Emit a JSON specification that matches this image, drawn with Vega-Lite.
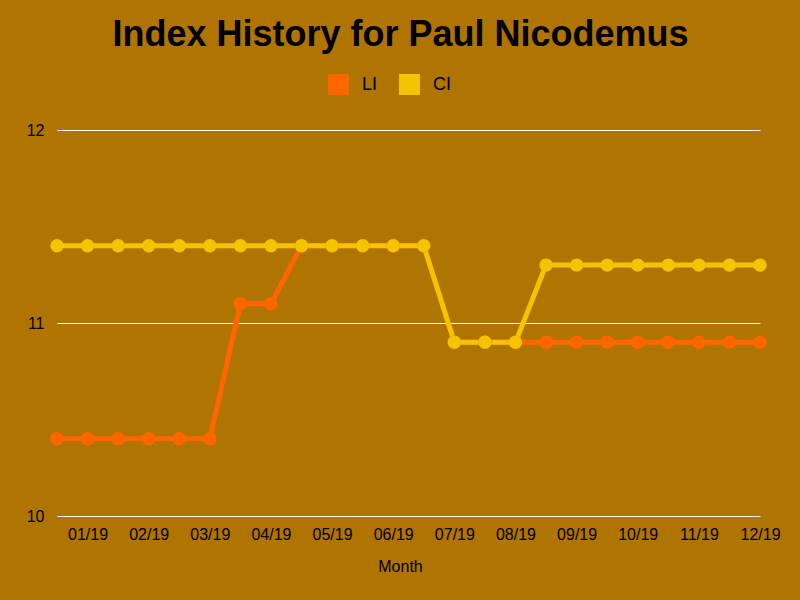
{
  "$schema": "https://vega.github.io/schema/vega-lite/v6.json",
  "autosize": {"type": "none"},
  "padding": {"left": 57, "top": 130, "right": 40, "bottom": 84},
  "width": 703,
  "height": 386,
  "background": "#B07400",
  "title": {
    "text": "Index History for Paul Nicodemus",
    "fontSize": 36,
    "font": "Liberation Sans",
    "fontWeight": "bold",
    "color": "#000000",
    "anchor": "middle",
    "dx": -8,
    "offset": 20
  },
  "config": {
    "view": {"stroke": null},
    "font": "Liberation Sans"
  },
  "data": {
    "values": [
      {"period": "01/19 H1", "series": "LI", "value": 10.4},
      {"period": "01/19 H2", "series": "LI", "value": 10.4},
      {"period": "02/19 H1", "series": "LI", "value": 10.4},
      {"period": "02/19 H2", "series": "LI", "value": 10.4},
      {"period": "03/19 H1", "series": "LI", "value": 10.4},
      {"period": "03/19 H2", "series": "LI", "value": 10.4},
      {"period": "04/19 H1", "series": "LI", "value": 11.1},
      {"period": "04/19 H2", "series": "LI", "value": 11.1},
      {"period": "05/19 H1", "series": "LI", "value": 11.4},
      {"period": "05/19 H2", "series": "LI", "value": 11.4},
      {"period": "06/19 H1", "series": "LI", "value": 11.4},
      {"period": "06/19 H2", "series": "LI", "value": 11.4},
      {"period": "07/19 H1", "series": "LI", "value": 11.4},
      {"period": "07/19 H2", "series": "LI", "value": 10.9},
      {"period": "08/19 H1", "series": "LI", "value": 10.9},
      {"period": "08/19 H2", "series": "LI", "value": 10.9},
      {"period": "09/19 H1", "series": "LI", "value": 10.9},
      {"period": "09/19 H2", "series": "LI", "value": 10.9},
      {"period": "10/19 H1", "series": "LI", "value": 10.9},
      {"period": "10/19 H2", "series": "LI", "value": 10.9},
      {"period": "11/19 H1", "series": "LI", "value": 10.9},
      {"period": "11/19 H2", "series": "LI", "value": 10.9},
      {"period": "12/19 H1", "series": "LI", "value": 10.9},
      {"period": "12/19 H2", "series": "LI", "value": 10.9},
      {"period": "01/19 H1", "series": "CI", "value": 11.4},
      {"period": "01/19 H2", "series": "CI", "value": 11.4},
      {"period": "02/19 H1", "series": "CI", "value": 11.4},
      {"period": "02/19 H2", "series": "CI", "value": 11.4},
      {"period": "03/19 H1", "series": "CI", "value": 11.4},
      {"period": "03/19 H2", "series": "CI", "value": 11.4},
      {"period": "04/19 H1", "series": "CI", "value": 11.4},
      {"period": "04/19 H2", "series": "CI", "value": 11.4},
      {"period": "05/19 H1", "series": "CI", "value": 11.4},
      {"period": "05/19 H2", "series": "CI", "value": 11.4},
      {"period": "06/19 H1", "series": "CI", "value": 11.4},
      {"period": "06/19 H2", "series": "CI", "value": 11.4},
      {"period": "07/19 H1", "series": "CI", "value": 11.4},
      {"period": "07/19 H2", "series": "CI", "value": 10.9},
      {"period": "08/19 H1", "series": "CI", "value": 10.9},
      {"period": "08/19 H2", "series": "CI", "value": 10.9},
      {"period": "09/19 H1", "series": "CI", "value": 11.3},
      {"period": "09/19 H2", "series": "CI", "value": 11.3},
      {"period": "10/19 H1", "series": "CI", "value": 11.3},
      {"period": "10/19 H2", "series": "CI", "value": 11.3},
      {"period": "11/19 H1", "series": "CI", "value": 11.3},
      {"period": "11/19 H2", "series": "CI", "value": 11.3},
      {"period": "12/19 H1", "series": "CI", "value": 11.3},
      {"period": "12/19 H2", "series": "CI", "value": 11.3}
    ]
  },
  "mark": {
    "type": "line",
    "strokeWidth": 5,
    "point": {"size": 180, "filled": true, "opacity": 1}
  },
  "encoding": {
    "x": {
      "field": "period",
      "type": "ordinal",
      "sort": null,
      "scale": {"type": "point", "padding": 0},
      "title": "Month",
      "axis": {
        "labelExpr": "slice(datum.value, -2) == 'H2' ? slice(datum.value, 0, 5) : ''",
        "labelAngle": 0,
        "labelFontSize": 16,
        "labelColor": "#000000",
        "labelPadding": 10,
        "ticks": false,
        "tickSize": 0,
        "domain": false,
        "grid": false,
        "titleFontSize": 16,
        "titleFontWeight": "normal",
        "titleColor": "#000000",
        "titleAlign": "center",
        "titleX": 343,
        "titlePadding": 16
      }
    },
    "y": {
      "field": "value",
      "type": "quantitative",
      "scale": {"domain": [10, 12]},
      "title": null,
      "axis": {
        "values": [10, 11, 12],
        "format": ".0f",
        "labelFontSize": 16,
        "labelColor": "#000000",
        "labelPadding": 13,
        "ticks": false,
        "tickSize": 0,
        "domain": false,
        "grid": true,
        "gridColor": "#FFFFFF",
        "gridOpacity": 1,
        "gridWidth": 1
      }
    },
    "color": {
      "field": "series",
      "type": "nominal",
      "sort": ["LI", "CI"],
      "scale": {"domain": ["LI", "CI"], "range": ["#FF6600", "#F5C400"]},
      "legend": {
        "title": null,
        "orient": "none",
        "direction": "horizontal",
        "legendX": 271,
        "legendY": -56,
        "padding": 0,
        "symbolType": "square",
        "symbolSize": 441,
        "symbolStrokeWidth": 0,
        "symbolOpacity": 1,
        "labelFontSize": 18,
        "labelColor": "#000000",
        "labelOffset": 13,
        "columnPadding": 21
      }
    }
  }
}
